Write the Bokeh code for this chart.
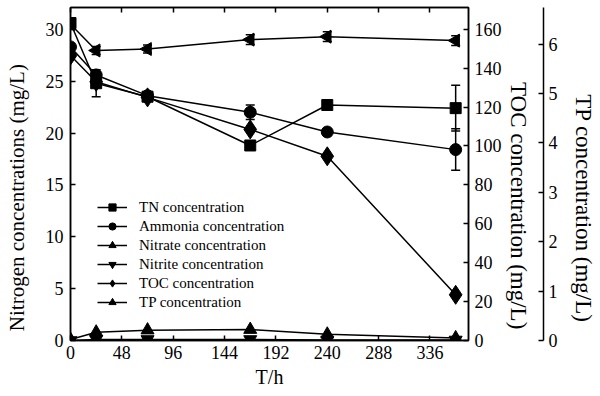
import numpy as np
from bokeh.plotting import figure
from bokeh.models import (Range1d, LinearAxis, FixedTicker, Whisker, ColumnDataSource,
                          Legend, LegendItem, TeeHead)
from bokeh.embed import file_html
from bokeh.resources import INLINE

# ---- data ----
time_h = [0, 24, 72, 168, 240, 360]
tn = [30.6, 24.8, 23.5, 18.8, 22.7, 22.4]
tn_err = [0.3, 1.3, 0.2, 0.3, 0.2, 2.2]
ammonia = [28.3, 25.6, 23.6, 22.0, 20.1, 18.4]
ammonia_err = [0.2, 0.3, 0.2, 0.7, 0.2, 2.0]
nitrate = [0.1, 0.8, 1.0, 1.05, 0.6, 0.25]
nitrite = [0.0, 0.1, 0.1, 0.1, 0.05, 0.05]
toc = [146.5, 133.0, 125.0, 108.5, 94.7, 23.5]
tp = [6.4, 5.87, 5.9, 6.09, 6.15, 6.07]
tp_err = [0.08, 0.08, 0.08, 0.1, 0.1, 0.1]

x_ticks = [0, 48, 96, 144, 192, 240, 288, 336]
n_ticks = [0, 5, 10, 15, 20, 25, 30]
toc_ticks = [0, 20, 40, 60, 80, 100, 120, 140, 160]
tp_ticks = [0, 1, 2, 3, 4, 5, 6]

FONT = "'Liberation Serif', 'Times New Roman', serif"
NB = "\u00a0"

p = figure(width=600, height=396, output_backend="svg", toolbar_location=None,
           x_range=Range1d(0, 372), y_range=Range1d(0, 32.1),
           min_border_left=70, min_border_right=132, min_border_top=7, min_border_bottom=56,
           x_axis_label="T/h",
           y_axis_label="Nitrogen concentrations (mg/L)" + NB * 9)
p.extra_y_ranges = {"toc": Range1d(0, 171.2), "tp": Range1d(0, 6.74)}
p.xgrid.visible = False
p.ygrid.visible = False
p.outline_line_color = "black"
p.outline_line_width = 1.5
p.outline_line_alpha = 1
p.background_fill_color = "white"
p.border_fill_color = "white"


def style(ax, tick_in=5, tick_out=0):
    ax.major_tick_in = tick_in
    ax.major_tick_out = tick_out
    ax.minor_tick_in = 0
    ax.minor_tick_out = 0
    ax.major_label_text_font = FONT
    ax.major_label_text_font_size = "18px"
    ax.major_label_text_color = "black"
    ax.axis_label_text_font = FONT
    ax.axis_label_text_font_size = "20px"
    ax.axis_label_text_font_style = "normal"
    ax.axis_label_text_color = "black"
    ax.axis_line_width = 1.5
    ax.axis_line_color = "black"
    ax.major_tick_line_width = 1.5
    ax.major_tick_line_color = "black"


xa = p.xaxis[0]
xa.ticker = FixedTicker(ticks=x_ticks)
style(xa)
xa.major_label_standoff = 5
xa.axis_label_standoff = 4

ya = p.yaxis[0]
ya.ticker = FixedTicker(ticks=n_ticks)
style(ya)
ya.axis_label_text_font_size = "21px"
ya.major_label_standoff = 7
ya.axis_label_standoff = 14

top = LinearAxis(ticker=FixedTicker(ticks=x_ticks))
style(top)
top.major_label_overrides = {t: "" for t in x_ticks}
top.major_label_text_font_size = "1px"
top.major_label_standoff = 0
p.add_layout(top, "above")

toc_ax = LinearAxis(y_range_name="toc", ticker=FixedTicker(ticks=toc_ticks),
                    axis_label=NB * 11 + "TOC concentration (mg/L)")
style(toc_ax)
toc_ax.axis_label_text_font_size = "23px"
toc_ax.major_label_standoff = 6
toc_ax.axis_label_standoff = 1
p.add_layout(toc_ax, "right")

spacer = LinearAxis(y_range_name="toc", ticker=FixedTicker(ticks=[80]))
spacer.axis_line_color = None
spacer.major_tick_line_color = None
spacer.major_tick_out = 10
spacer.major_tick_in = 0
spacer.minor_tick_out = 0
spacer.minor_tick_in = 0
spacer.major_label_standoff = 0
spacer.major_label_overrides = {80: ""}
spacer.major_label_text_font_size = "1px"
p.add_layout(spacer, "right")

tp_ax = LinearAxis(y_range_name="tp", ticker=FixedTicker(ticks=tp_ticks),
                   axis_label=NB * 12 + "TP concentration (mg/L)")
style(tp_ax)
tp_ax.axis_label_text_font_size = "23px"
tp_ax.major_label_standoff = 5
tp_ax.axis_label_standoff = 10
p.add_layout(tp_ax, "right")

# ---- error bars ----
def whisk(y, err, rng=None):
    src = ColumnDataSource(dict(x=time_h,
                                upper=[a + b for a, b in zip(y, err)],
                                lower=[a - b for a, b in zip(y, err)]))
    kw = dict(source=src, base="x", upper="upper", lower="lower",
              line_color="black", line_width=1.5,
              upper_head=TeeHead(size=9, line_width=1.5, line_color="black"),
              lower_head=TeeHead(size=9, line_width=1.5, line_color="black"))
    if rng:
        kw["y_range_name"] = rng
    p.add_layout(Whisker(**kw))


whisk(tn, tn_err)
whisk(ammonia, ammonia_err)
whisk(tp, tp_err, "tp")

LW = 1.5
items = []

l = p.line(time_h, tn, line_color="black", line_width=LW)
s = p.scatter(time_h, tn, marker="square", size=11, color="black")
items.append(LegendItem(label="TN concentration", renderers=[l, s]))

l = p.line(time_h, ammonia, line_color="black", line_width=LW)
s = p.scatter(time_h, ammonia, marker="circle", size=12, color="black")
items.append(LegendItem(label="Ammonia concentration", renderers=[l, s]))

l = p.line(time_h, nitrate, line_color="black", line_width=LW)
s = p.scatter(time_h, nitrate, marker="triangle", size=13, color="black")
items.append(LegendItem(label="Nitrate concentration", renderers=[l, s]))

l = p.line(time_h, nitrite, line_color="black", line_width=LW)
s = p.scatter(time_h, nitrite, marker="inverted_triangle", size=13, color="black")
items.append(LegendItem(label="Nitrite concentration", renderers=[l, s]))

l = p.line(time_h, toc, line_color="black", line_width=LW, y_range_name="toc")
s = p.scatter(time_h, toc, marker="diamond", size=19, color="black", y_range_name="toc")
items.append(LegendItem(label="TOC concentration", renderers=[l, s]))

l = p.line(time_h, tp, line_color="black", line_width=LW, y_range_name="tp")
s = p.scatter(time_h, tp, marker="triangle", size=13, color="black", angle=np.pi / 2,
              y_range_name="tp")
items.append(LegendItem(label="TP concentration", renderers=[l, s]))

legend = Legend(items=items, location=(27, 29))
legend.label_text_font = FONT
legend.label_text_font_size = "15px"
legend.label_text_color = "black"
legend.glyph_width = 30
legend.glyph_height = 18
legend.label_height = 18
legend.spacing = 1
legend.padding = 0
legend.margin = 0
legend.label_standoff = 12
legend.border_line_color = None
legend.background_fill_alpha = 0
p.add_layout(legend)

open("out.html", "w").write(file_html(p, INLINE))
